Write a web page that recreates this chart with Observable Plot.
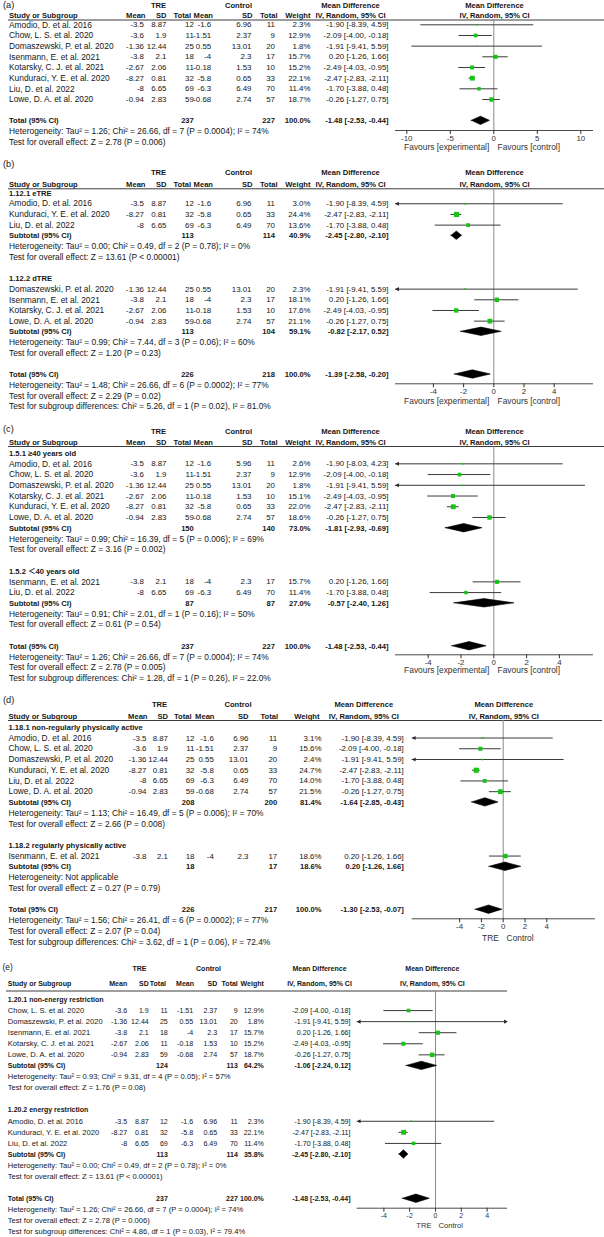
<!DOCTYPE html>
<html>
<head>
<meta charset="utf-8">
<script src="https://cdn.jsdelivr.net/npm/d3@7"></script>
<script src="https://cdn.jsdelivr.net/npm/@observablehq/plot@0.6"></script>
<style>
  html, body { margin: 0; padding: 0; background: #fff; }
  #chart { width: 604px; height: 1237px; overflow: hidden; }
  #chart svg { display: block; }
</style>
</head>
<body>
<div id="chart"></div>
<script>
// ---------------- DATA ----------------
const studies = ["Amodio, D. et al. 2016", "Chow, L. S. et al. 2020", "Domaszewski, P. et al. 2020", "Isenmann, E. et al. 2021", "Kotarsky, C. J. et al. 2021", "Kunduraci, Y. E. et al. 2020", "Liu, D. et al. 2022", "Lowe, D. A. et al. 2020"];
const treMean = [-3.5, -3.6, -1.36, -3.8, -2.67, -8.27, -8, -0.94];
const treSD   = [8.87, 1.9, 12.44, 2.1, 2.06, 0.81, 6.65, 2.83];
const treN    = [12, 11, 25, 18, 11, 32, 69, 59];
const ctlMean = [-1.6, -1.51, 0.55, -4, -0.18, -5.8, -6.3, -0.68];
const ctlSD   = [6.96, 2.37, 13.01, 2.3, 1.53, 0.65, 6.49, 2.74];
const ctlN    = [11, 9, 20, 17, 10, 33, 70, 57];
const mdEst   = [-1.90, -2.09, -1.91, 0.20, -2.49, -2.47, -1.70, -0.26];
const mdLow   = [-8.39, -4.00, -9.41, -1.26, -4.03, -2.83, -3.88, -1.27];
const mdHigh  = [4.59, -0.18, 5.59, 1.66, -0.95, -2.11, 0.48, 0.75];

const colHeads = ["Mean", "SD", "Total", "Mean", "SD", "Total", "Weight"];
const ticksWide = [-10, -5, 0, 5, 10];
const ticksNarrow = [-4, -2, 0, 2, 4];
const favours = ["Favours [experimental]", "Favours [control]"];
const armLabels = ["TRE", "Control"];

// (a) overall
const aStudies = [0, 1, 2, 3, 4, 5, 6, 7];
const aWeights = [2.3, 12.9, 1.8, 15.7, 15.2, 22.1, 11.4, 18.7];
const aTotal = [237, 227, 100.0, -1.48, -2.53, -0.44]; // nTRE, nControl, weight, MD, low, high
const aNotes = ["Heterogeneity: Tau² = 1.26; Chi² = 26.66, df = 7 (P = 0.0004); I² = 74%", "Test for overall effect: Z = 2.78 (P = 0.006)"];

// (b) eTRE / dTRE
const bGroups = ["1.12.1 eTRE", "1.12.2 dTRE"];
const b1Studies = [0, 5, 6];
const b1Weights = [3.0, 24.4, 13.6];
const b1Sub = [113, 114, 40.9, -2.45, -2.80, -2.10];
const b1Notes = ["Heterogeneity: Tau² = 0.00; Chi² = 0.49, df = 2 (P = 0.78); I² = 0%", "Test for overall effect: Z = 13.61 (P < 0.00001)"];
const b2Studies = [2, 3, 4, 7];
const b2Weights = [2.3, 18.1, 17.6, 21.1];
const b2Sub = [113, 104, 59.1, -0.82, -2.17, 0.52];
const b2Notes = ["Heterogeneity: Tau² = 0.99; Chi² = 7.44, df = 3 (P = 0.06); I² = 60%", "Test for overall effect: Z = 1.20 (P = 0.23)"];
const bTotal = [226, 218, 100.0, -1.39, -2.58, -0.20];
const bNotes = ["Heterogeneity: Tau² = 1.48; Chi² = 26.66, df = 6 (P = 0.0002); I² = 77%", "Test for overall effect: Z = 2.29 (P = 0.02)", "Test for subgroup differences: Chi² = 5.26, df = 1 (P = 0.02), I² = 81.0%"];

// (c) age
const cGroups = ["1.5.1 ≥40 years old", "1.5.2 ＜40 years old"];
const c1Studies = [0, 1, 2, 4, 5, 7];
const c1Weights = [2.6, 12.9, 1.8, 15.1, 22.0, 18.6];
const c1Sub = [150, 140, 73.0, -1.81, -2.93, -0.69];
const c1Notes = ["Heterogeneity: Tau² = 0.99; Chi² = 16.39, df = 5 (P = 0.006); I² = 69%", "Test for overall effect: Z = 3.16 (P = 0.002)"];
const c1Fix = {study: 0, ctlSD: 5.96, low: -8.03, high: 4.23};
const c2Studies = [3, 6];
const c2Weights = [15.7, 11.4];
const c2Sub = [87, 87, 27.0, -0.57, -2.40, 1.26];
const c2Notes = ["Heterogeneity: Tau² = 0.91; Chi² = 2.01, df = 1 (P = 0.16); I² = 50%", "Test for overall effect: Z = 0.61 (P = 0.54)"];
const cTotal = [237, 227, 100.0, -1.48, -2.53, -0.44];
const cNotes = ["Heterogeneity: Tau² = 1.26; Chi² = 26.66, df = 7 (P = 0.0004); I² = 74%", "Test for overall effect: Z = 2.78 (P = 0.005)", "Test for subgroup differences: Chi² = 1.28, df = 1 (P = 0.26), I² = 22.0%"];

// (d) physical activity
const dGroups = ["1.18.1 non-regularly physically active", "1.18.2 regularly physically active"];
const d1Studies = [0, 1, 2, 5, 6, 7];
const d1Weights = [3.1, 15.6, 2.4, 24.7, 14.0, 21.5];
const d1Sub = [208, 200, 81.4, -1.64, -2.85, -0.43];
const d1Notes = ["Heterogeneity: Tau² = 1.13; Chi² = 16.49, df = 5 (P = 0.006); I² = 70%", "Test for overall effect: Z = 2.66 (P = 0.008)"];
const d2Studies = [3];
const d2Weights = [18.6];
const d2Sub = [18, 17, 18.6, 0.20, -1.26, 1.66];
const d2Notes = ["Heterogeneity: Not applicable", "Test for overall effect: Z = 0.27 (P = 0.79)"];
const dTotal = [226, 217, 100.0, -1.30, -2.53, -0.07];
const dNotes = ["Heterogeneity: Tau² = 1.56; Chi² = 26.41, df = 6 (P = 0.0002); I² = 77%", "Test for overall effect: Z = 2.07 (P = 0.04)", "Test for subgroup differences: Chi² = 3.62, df = 1 (P = 0.06), I² = 72.4%"];

// (e) energy restriction
const eGroups = ["1.20.1 non-energy restriction", "1.20.2 energy restriction"];
const e1Studies = [1, 2, 3, 4, 7];
const e1Weights = [12.9, 1.8, 15.7, 15.2, 18.7];
const e1Sub = [124, 113, 64.2, -1.06, -2.24, 0.12];
const e1Notes = ["Heterogeneity: Tau² = 0.93; Chi² = 9.31, df = 4 (P = 0.05); I² = 57%", "Test for overall effect: Z = 1.76 (P = 0.08)"];
const e2Studies = [0, 5, 6];
const e2Weights = [2.3, 22.1, 11.4];
const e2Sub = [113, 114, 35.8, -2.45, -2.80, -2.10];
const e2Notes = ["Heterogeneity: Tau² = 0.00; Chi² = 0.49, df = 2 (P = 0.78); I² = 0%", "Test for overall effect: Z = 13.61 (P < 0.00001)"];
const eTotal = [237, 227, 100.0, -1.48, -2.53, -0.44];
const eNotes = ["Heterogeneity: Tau² = 1.26; Chi² = 26.66, df = 7 (P = 0.0004); I² = 74%", "Test for overall effect: Z = 2.78 (P = 0.006)", "Test for subgroup differences: Chi² = 4.86, df = 1 (P = 0.03), I² = 79.4%"];

// ---------------- LAYOUT ----------------
const FONT = "'Liberation Sans', Arial, Helvetica, 'Noto Sans CJK SC', sans-serif";
const ink = "#161616";
const green = "#16c416";

// fs: labels & notes, fsN: numbers, fsB: bold
const layoutAB = {fs: 8.4, fsN: 7.9, fsB: 7.6, tagX: 2.5, nameX: 8.5, cols: [143.5, 166, 193.3, 210.7, 251, 274.5, 310], head: [145, 166, 190.5, 212.5, 252, 277, 310], ci: 388, treC: 158, ctlC: 238, ciC: 350, forest: [395, 593], zero: 493.3, underX: [8, 604], footDx: [-4.5, 3.8]};
const layoutD = {fs: 8.4, fsN: 7.9, fsB: 7.6, tagX: 2.5, nameX: 8, cols: [146, 167.5, 194, 213.3, 248, 276.7, 321], head: [147, 167.5, 191, 214, 248, 277.5, 319], ci: 403.3, treC: 159, ctlC: 237.5, ciC: 363.3, forest: [411.7, 595], zero: 502.7, underX: [8, 602], footDx: [-4.4, 3.4]};
const layoutE = {fs: 7.6, fsN: 7.1, fsB: 7.0, tagX: 2, nameX: 7.3, cols: [126.7, 148.3, 167.3, 192.7, 216.7, 237.3, 263.3], head: [126.7, 148.3, 165.5, 193.5, 216.7, 237.3, 263.3], ci: 350, treC: 139, ctlC: 208, ciC: 319, forest: [356.7, 507], zero: 435, underX: [6, 507], footDx: [-4, 3]};

const panels = [
  {tag: "(a)", L: layoutAB, top: 0, height: 157, titleY: 4.7, headY: 4.7, colHeadY: 15, underY: 19.5, firstY: 24.3, rowH: 10.67, axisY: 130, footY: 146.7, ppu: 8.7, ticks: ticksWide, foot: favours,
   groups: [{studies: aStudies, weights: aWeights}], total: aTotal, notes: aNotes},
  {tag: "(b)", L: layoutAB, top: 157, height: 265, titleY: 163.3, headY: 171.7, colHeadY: 184, underY: 188.3, firstY: 192.6, rowH: 10.67, axisY: 383.3, footY: 400.7, ppu: 15.1, ticks: ticksNarrow, foot: favours,
   groups: [{label: bGroups[0], studies: b1Studies, weights: b1Weights, sub: b1Sub, notes: b1Notes},
            {label: bGroups[1], studies: b2Studies, weights: b2Weights, sub: b2Sub, notes: b2Notes}], total: bTotal, notes: bNotes},
  {tag: "(c)", L: layoutAB, top: 422, height: 272, titleY: 428.3, headY: 431.5, colHeadY: 442, underY: 446, firstY: 452.6, rowH: 10.73, axisY: 654.3, footY: 670, ppu: 16.4, ticks: ticksNarrow, foot: favours,
   groups: [{label: cGroups[0], studies: c1Studies, weights: c1Weights, sub: c1Sub, notes: c1Notes, fix: c1Fix},
            {label: cGroups[1], studies: c2Studies, weights: c2Weights, sub: c2Sub, notes: c2Notes}], total: cTotal, notes: cNotes},
  {tag: "(d)", L: layoutD, top: 694, height: 264, titleY: 700, headY: 704.5, colHeadY: 716, underY: 720, firstY: 726.8, rowH: 10.73, axisY: 918.3, footY: 937.5, ppu: 10.9, ticks: ticksNarrow, foot: armLabels,
   groups: [{label: dGroups[0], studies: d1Studies, weights: d1Weights, sub: d1Sub, notes: d1Notes},
            {label: dGroups[1], studies: d2Studies, weights: d2Weights, sub: d2Sub, notes: d2Notes}], total: dTotal, notes: dNotes},
  {tag: "(e)", L: layoutE, top: 958, height: 279, titleY: 967, headY: 968, colHeadY: 983.5, underY: 990.5, firstY: 999, rowH: 11.07, axisY: 1207.7, footY: 1225, ppu: 12.9, ticks: ticksNarrow, foot: armLabels,
   groups: [{label: eGroups[0], studies: e1Studies, weights: e1Weights, sub: e1Sub, notes: e1Notes},
            {label: eGroups[1], studies: e2Studies, weights: e2Weights, sub: e2Sub, notes: e2Notes}], total: eTotal, notes: eNotes}
];

// ---------------- BUILD ----------------
const fmtW = w => w.toFixed(1) + "%";
const fmtCI = (e, l, h) => `${e.toFixed(2)} [${l.toFixed(2)}, ${h.toFixed(2)}]`;

function studyRow(s, w, fix) {
  const f = (fix && fix.study === s) ? fix : {};
  return {kind: "study", name: studies[s], tm: treMean[s], tsd: treSD[s], tn: treN[s],
          cm: ctlMean[s], csd: f.ctlSD ?? ctlSD[s], cn: ctlN[s], w,
          est: mdEst[s], low: f.low ?? mdLow[s], high: f.high ?? mdHigh[s]};
}
const summaryRow = (kind, name, v) => ({kind, name, tn: v[0], cn: v[1], w: v[2], est: v[3], low: v[4], high: v[5]});

function buildRows(P) {
  const rows = [];
  let i = 0;
  const push = r => rows.push({...r, i: i++});
  P.groups.forEach(g => {
    if (g.label) push({kind: "group", name: g.label});
    g.studies.forEach((s, k) => push(studyRow(s, g.weights[k], g.fix)));
    if (g.sub) {
      push(summaryRow("sub", "Subtotal (95% CI)", g.sub));
      g.notes.forEach(t => push({kind: "note", name: t}));
    }
    i++; // blank line
  });
  push(summaryRow("total", "Total (95% CI)", P.total));
  P.notes.forEach(t => push({kind: "note", name: t}));
  return rows;
}

function renderPanel(P) {
  const L = P.L, c = L.cols, h = L.head;
  const [fL, fR] = L.forest;
  const px2x = px => (px - L.zero) / P.ppu;
  const x0 = px2x(fL), x1 = px2x(fR);
  const rowAt = py => (py - P.firstY) / P.rowH;
  const rows = buildRows(P);
  const studyRows = rows.filter(d => d.kind === "study");
  const sumRows = rows.filter(d => d.kind === "sub" || d.kind === "total");
  const labelPlain = rows.filter(d => d.kind === "study" || d.kind === "note");
  const labelBold = rows.filter(d => d.kind === "group" || d.kind === "sub" || d.kind === "total");

  const T = (data, text, px, anchor, bold, size) => Plot.text(data, {
    y: "i", text, frameAnchor: "left", dx: px - fL, textAnchor: anchor,
    fontWeight: bold ? "bold" : "normal", fontSize: size, fill: ink});
  const H = (label, px, py, anchor, bold, size) => Plot.text([label], {
    text: d => d, y: () => rowAt(py), frameAnchor: "left", dx: px - fL, textAnchor: anchor,
    fontWeight: bold ? "bold" : "normal", fontSize: size ?? (bold ? L.fsB : L.fs), fill: ink});

  const fc = (fL + fR) / 2;
  const dh = 4.2 / P.rowH;
  const diamonds = sumRows.flatMap(d => [
    {k: d.i, x: d.low, y1: d.i, y2: d.i},
    {k: d.i, x: d.est, y1: d.i - dh, y2: d.i + dh},
    {k: d.i, x: d.high, y1: d.i, y2: d.i}
  ]);
  const N = L.fsN, B = L.fsB;

  const marks = [
    // headers
    H(P.tag, L.tagX, P.titleY, "start", false, L.fs + 0.8),
    H("TRE", L.treC, P.headY, "middle", true),
    H("Control", L.ctlC, P.headY, "middle", true),
    H("Mean Difference", L.ciC, P.headY, "middle", true),
    H("Mean Difference", fc, P.headY, "middle", true),
    H("Study or Subgroup", L.nameX, P.colHeadY, "start", true),
    ...colHeads.map((t, k) => H(t, h[k], P.colHeadY, "end", true)),
    H("IV, Random, 95% CI", L.ciC, P.colHeadY, "middle", true),
    H("IV, Random, 95% CI", fc, P.colHeadY, "middle", true),
    Plot.ruleY([rowAt(P.underY)], {x1: () => px2x(L.underX[0]), x2: () => px2x(L.underX[1]), stroke: "#3c3c3c", strokeWidth: 1}),
    // table body
    T(labelPlain, d => d.name, L.nameX, "start", false, L.fs),
    T(labelBold, d => d.name, L.nameX, "start", true, B),
    T(studyRows, d => String(d.tm), c[0], "end", false, N),
    T(studyRows, d => String(d.tsd), c[1], "end", false, N),
    T(studyRows, d => String(d.tn), c[2], "end", false, N),
    T(studyRows, d => String(d.cm), c[3], "end", false, N),
    T(studyRows, d => String(d.csd), c[4], "end", false, N),
    T(studyRows, d => String(d.cn), c[5], "end", false, N),
    T(studyRows, d => fmtW(d.w), c[6], "end", false, N),
    T(studyRows, d => fmtCI(d.est, d.low, d.high), L.ci, "end", false, N),
    T(sumRows, d => String(d.tn), c[2], "end", true, B),
    T(sumRows, d => String(d.cn), c[5], "end", true, B),
    T(sumRows, d => fmtW(d.w), c[6], "end", true, B),
    T(sumRows, d => fmtCI(d.est, d.low, d.high), L.ci, "end", true, B),
    // forest
    Plot.ruleX([0], {stroke: "#8a8a8a", strokeWidth: 1}),
    Plot.ruleY([rowAt(P.axisY)], {stroke: "#4a4a4a", strokeWidth: 1}),
    Plot.axisX({ticks: P.ticks, tickSize: 4, tickPadding: 0.5, tickFormat: d => String(d), fontSize: N, color: "#333", label: null}),
    Plot.ruleY(studyRows, {y: "i", x1: d => Math.max(d.low, x0), x2: d => Math.min(d.high, x1), stroke: "#3a3a3a", strokeWidth: 1}),
    Plot.dot(studyRows.filter(d => d.low < x0), {x: () => x0, y: "i", dx: 2.2, symbol: "triangle", rotate: -90, r: 1.5, fill: "#222", stroke: "none"}),
    Plot.dot(studyRows.filter(d => d.high > x1), {x: () => x1, y: "i", dx: -2.2, symbol: "triangle", rotate: 90, r: 1.5, fill: "#222", stroke: "none"}),
    Plot.dot(studyRows, {x: "est", y: "i", r: "w", symbol: "square", fill: green, stroke: "none"}),
    Plot.areaY(diamonds, {x: "x", y1: "y1", y2: "y2", z: "k", fill: "#000", stroke: "#000", strokeWidth: 0.6}),
    Plot.text([P.foot[0]], {text: d => d, x: () => 0, y: () => rowAt(P.footY), dx: L.footDx[0], textAnchor: "end", fontSize: L.fs, fill: "#333"}),
    Plot.text([P.foot[1]], {text: d => d, x: () => 0, y: () => rowAt(P.footY), dx: L.footDx[1], textAnchor: "start", fontSize: L.fs, fill: "#333"})
  ];

  return Plot.plot({
    width: 604,
    height: P.height,
    marginLeft: fL,
    marginRight: 604 - fR,
    marginTop: P.underY - P.top,
    marginBottom: P.top + P.height - P.axisY,
    style: {fontFamily: FONT, fontSize: L.fs + "px", background: "#fff", overflow: "visible"},
    x: {domain: [x0, x1], range: [fL, fR]},
    y: {type: "linear", domain: [0, 1], range: [P.firstY - P.top, P.firstY - P.top + P.rowH], axis: null},
    r: {type: "sqrt", domain: [0, 25], range: [0, 2.9]},
    marks
  });
}

const host = document.getElementById("chart");
panels.forEach(P => host.appendChild(renderPanel(P)));
</script>
</body>
</html>
